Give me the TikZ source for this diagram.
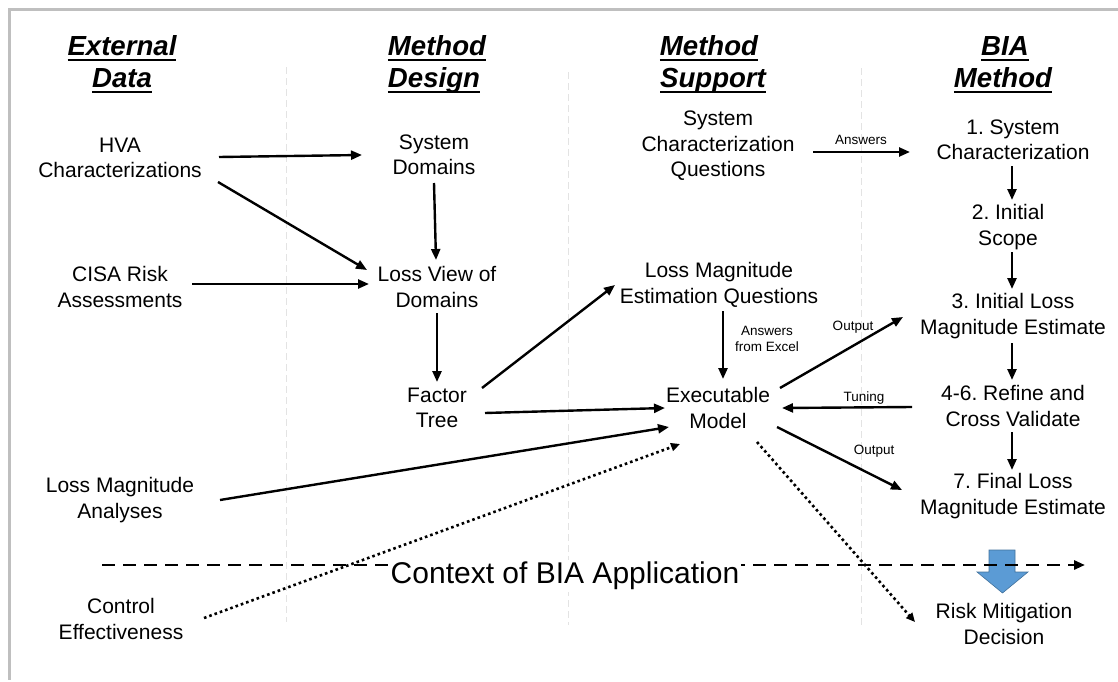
\documentclass[tikz,border=0pt]{standalone}
\usepackage{fontspec}
\setmainfont{Liberation Sans}
\usetikzlibrary{arrows.meta,calc}
\frenchspacing
\newcommand\hdul[1]{\setbox0\hbox{#1}\rlap{\rule[-5.5pt]{\wd0}{2.8pt}}\box0}
\definecolor{sepgray}{HTML}{E3E3E3}
\definecolor{bordergray}{HTML}{BFBFBF}
\definecolor{arrowblue}{HTML}{5B9BD5}
\definecolor{arrowedge}{HTML}{41719C}
\begin{document}
\begin{tikzpicture}[x=1pt,y=-1pt,
 txt/.style={font=\fontsize{21}{25.5}\selectfont, align=center, inner sep=0pt},
 lbl/.style={font=\fontsize{13.5}{16.5}\selectfont, align=center, inner sep=0pt},
 hdr/.style={font=\fontsize{27.6}{31}\selectfont\bfseries\itshape, inner sep=0pt, anchor=base},
 arr/.style={line width=2.4pt, -{Triangle[length=11pt,width=9pt]}},
 dotarr/.style={line width=2.6pt, dash pattern=on 2.6pt off 3pt, -{Triangle[length=9pt,width=8pt]}},
 dashline/.style={line width=2.8pt, dash pattern=on 13pt off 8pt, -{Triangle[length=11pt,width=9pt]}},
 sepline/.style={sepgray, line width=1pt, dash pattern=on 7pt off 4pt},
 frame/.style={bordergray, line width=3.5pt},
 bluearrow/.style={fill=arrowblue, draw=arrowedge, line width=0.6pt}]
\useasboundingbox (0,0) rectangle (1118,682);

% frame
\coordinate (fTL) at (9.5,9.5);
\coordinate (fTR) at (1118,9.5);
\coordinate (fBL) at (9.5,680);
\draw[frame] (fTR) -- (fTL) -- (fBL);

% separators
\coordinate (s1t) at (286,67); \coordinate (s1b) at (286,622);
\coordinate (s2t) at (568,72); \coordinate (s2b) at (568,625);
\coordinate (s3t) at (861,68); \coordinate (s3b) at (861,625);
\draw[sepline] (s1t) -- (s1b);
\draw[sepline] (s2t) -- (s2b);
\draw[sepline] (s3t) -- (s3b);

% headers
\node[hdr] (hA1) at (122,56) {\hdul{External}};
\node[hdr] (hA2) at (122,88) {\hdul{Data}};
\node[hdr] (hB1) at (437,56) {\hdul{Method}};
\node[hdr] (hB2) at (434,88) {\hdul{Design}};
\node[hdr] (hC1) at (709,56) {\hdul{Method}};
\node[hdr] (hC2) at (713,88) {\hdul{Support}};
\node[hdr] (hD1) at (1005,56) {\hdul{BIA}};
\node[hdr] (hD2) at (1003,88) {\hdul{Method}};

% nodes
\node[txt] (hva)  at (120,158) {HVA\\Characterizations};
\node[txt] (cisa) at (120,287) {CISA Risk\\Assessments};
\node[txt] (lma)  at (120,500) {Loss Magnitude\\Analyses};
\node[txt] (ce)   at (121,619) {Control\\Effectiveness};
\node[txt] (sd)   at (434,155) {System\\Domains};
\node[txt] (lv)   at (437,287) {Loss View of\\Domains};
\node[txt] (ft)   at (437,408) {Factor\\Tree};
\node[txt] (scq)  at (718,146) {System\\Characterization\\Questions};
\node[txt] (lmeq) at (719,285) {Loss Magnitude\\Estimation Questions};
\node[txt] (em)   at (718,408) {Executable\\Model};
\node[txt] (b1)   at (1013,140) {1. System\\Characterization};
\node[txt] (b2)   at (1008,227) {2. Initial\\Scope};
\node[txt] (b3)   at (1013,316) {3. Initial Loss\\Magnitude Estimate};
\node[txt] (b46)  at (1013,406) {4-6. Refine and\\Cross Validate};
\node[txt] (b7)   at (1013,496) {7. Final Loss\\Magnitude Estimate};
\node[txt] (rmd)  at (1004,624) {Risk Mitigation\\Decision};

% blue block arrow
\path[bluearrow] (989,550) -- (1015,550) -- (1015,572) -- (1028,572) -- (1002.5,593) -- (977,572) -- (989,572) -- cycle;

% context line
\coordinate (ctxL) at (102,565);
\coordinate (ctxR) at (1085,565);
\draw[dashline] (ctxL) -- (ctxR);
\node[font=\fontsize{30}{34}\selectfont, fill=white, inner sep=2pt] (ctx) at (565,576) {Context of BIA Application};

% connectors
\draw[arr] ($(hva)+(99,-1)$) -- ($(sd)+(-72,0)$);
\draw[arr] ($(hva)+(98,24)$) -- ($(lv)+(-70,-17)$);
\draw[arr] ($(sd)+(0,28)$) -- ($(lv)+(-1,-27)$);
\draw[arr] ($(cisa)+(72,-3)$) -- ($(lv)+(-68,-3)$);
\draw[arr] ($(lv)+(0,26)$) -- ($(ft)+(0,-26)$);
\draw[arr] ($(ft)+(45,-20)$) -- ($(lmeq)+(-104,0)$);
\draw[arr] ($(ft)+(48,5)$) -- ($(em)+(-53,0)$);
\draw[arr] ($(lmeq)+(4,26)$) -- ($(em)+(5,-29)$);
\node[lbl] (lblx) at (767,339) {Answers\\from Excel};
\draw[arr] ($(lma)+(100,0)$) -- ($(em)+(-49,19)$);
\draw[dotarr] ($(ce)+(83,-1)$) -- ($(em)+(-38,36)$);
\draw[arr] ($(scq)+(95,6)$) -- ($(b1)+(-103,12)$);
\node[lbl] (lblans) at (861,140) {Answers};
\draw[arr] ($(b1)+(-1,26)$) -- ($(b2)+(4,-27)$);
\draw[arr] ($(b2)+(4,25)$) -- ($(b3)+(-1,-27)$);
\draw[arr] ($(em)+(62,-20)$) -- ($(b3)+(-110,1)$);
\node[lbl] (lblo1) at (853,327) {Output};
\draw[arr] ($(b46)+(-101,1)$) -- ($(em)+(64,0)$);
\node[lbl] (lblt) at (864,398) {Tuning};
\draw[arr] ($(em)+(59,19)$) -- ($(b7)+(-111,-6)$);
\node[lbl] (lblo2) at (874,451) {Output};
\draw[arr] ($(b3)+(-1,27)$) -- ($(b46)+(-1,-26)$);
\draw[arr] ($(b46)+(-1,26)$) -- ($(b7)+(-1,-26)$);
\draw[dotarr] ($(em)+(39,34)$) -- ($(rmd)+(-89,-2)$);
\end{tikzpicture}
\end{document}
